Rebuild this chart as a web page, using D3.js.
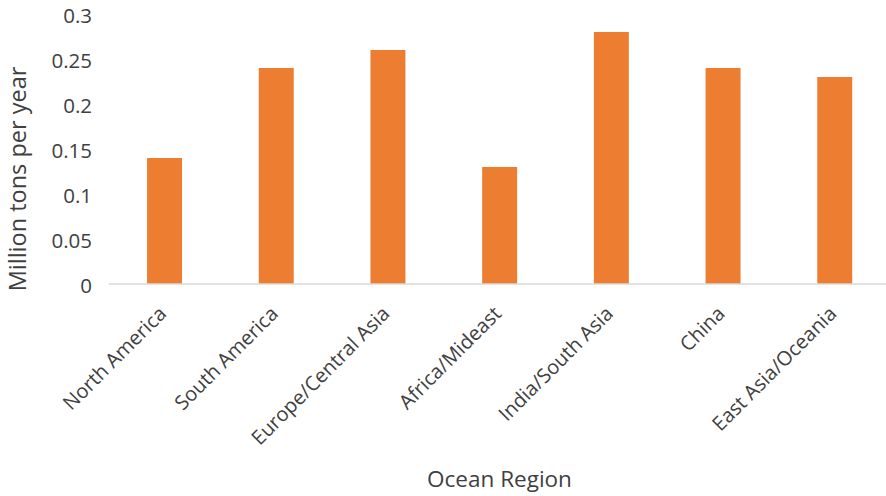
<!DOCTYPE html>
<html>
<head>
<meta charset="utf-8">
<script src="https://cdn.jsdelivr.net/npm/d3@7"></script>
<style>
  html, body { margin: 0; padding: 0; background: #fff; }
  svg { display: block; font-family: "Open Sans", "Liberation Sans", sans-serif; }
</style>
</head>
<body>
<svg id="chart" width="886" height="496"></svg>
<script>
// Plastic flowing into the ocean, by region (million tons per year)
const regions = ["North America", "South America", "Europe/Central Asia", "Africa/Mideast",
                 "India/South Asia", "China", "East Asia/Oceania"];
const values = [0.14, 0.24, 0.26, 0.13, 0.28, 0.24, 0.23];
const yTicks = [0, 0.05, 0.1, 0.15, 0.2, 0.25, 0.3];
const yTickLabels = ["0", "0.05", "0.1", "0.15", "0.2", "0.25", "0.3"];

const svg = d3.select("#chart");
const m = { left: 108.7, right: 890.6, top: 14, bottom: 284 };

const x = d3.scaleBand()
  .domain(regions)
  .range([m.left, m.right])
  .paddingInner(0.687)
  .paddingOuter(0.3435);

const y = d3.scaleLinear().domain([0, 0.3]).range([m.bottom, m.top]);

// bars
svg.append("g").selectAll("rect")
  .data(values)
  .join("rect")
  .attr("x", (d, i) => x(regions[i]))
  .attr("y", d => y(d))
  .attr("width", x.bandwidth())
  .attr("height", d => y(0) - y(d))
  .attr("fill", "#ED7D31");

// baseline
svg.append("line")
  .attr("x1", m.left).attr("x2", 886)
  .attr("y1", y(0)).attr("y2", y(0))
  .attr("stroke", "#d9d9d9").attr("stroke-width", 1.5);

// y axis labels
const yAxis = d3.axisLeft(y)
  .tickValues(yTicks)
  .tickFormat((d, i) => yTickLabels[i])
  .tickSize(0)
  .tickPadding(0);
const gy = svg.append("g").attr("transform", "translate(92,2)").call(yAxis);
gy.select(".domain").remove();
gy.selectAll("text")
  .attr("font-size", 20.5)
  .attr("fill", "#404040")
  .attr("font-family", "'Open Sans', sans-serif");

// x axis labels, rotated
const xAxis = d3.axisBottom(x).tickSize(0).tickPadding(0);
const gx = svg.append("g").attr("transform", `translate(0,${y(0)})`).call(xAxis);
gx.select(".domain").remove();
gx.selectAll("text")
  .attr("font-size", 20)
  .attr("fill", "#404040")
  .attr("font-family", "'Open Sans', sans-serif")
  .attr("text-anchor", "end")
  .attr("dy", null)
  .attr("transform", "translate(3,31) rotate(-45)");

// axis titles
svg.append("text")
  .attr("transform", "translate(26,179) rotate(-90)")
  .attr("text-anchor", "middle")
  .attr("font-size", 23.5)
  .attr("fill", "#404040")
  .text("Million tons per year");

svg.append("text")
  .attr("x", 499.5)
  .attr("y", 487)
  .attr("text-anchor", "middle")
  .attr("font-size", 22.5)
  .attr("fill", "#404040")
  .text("Ocean Region");
</script>
</body>
</html>
